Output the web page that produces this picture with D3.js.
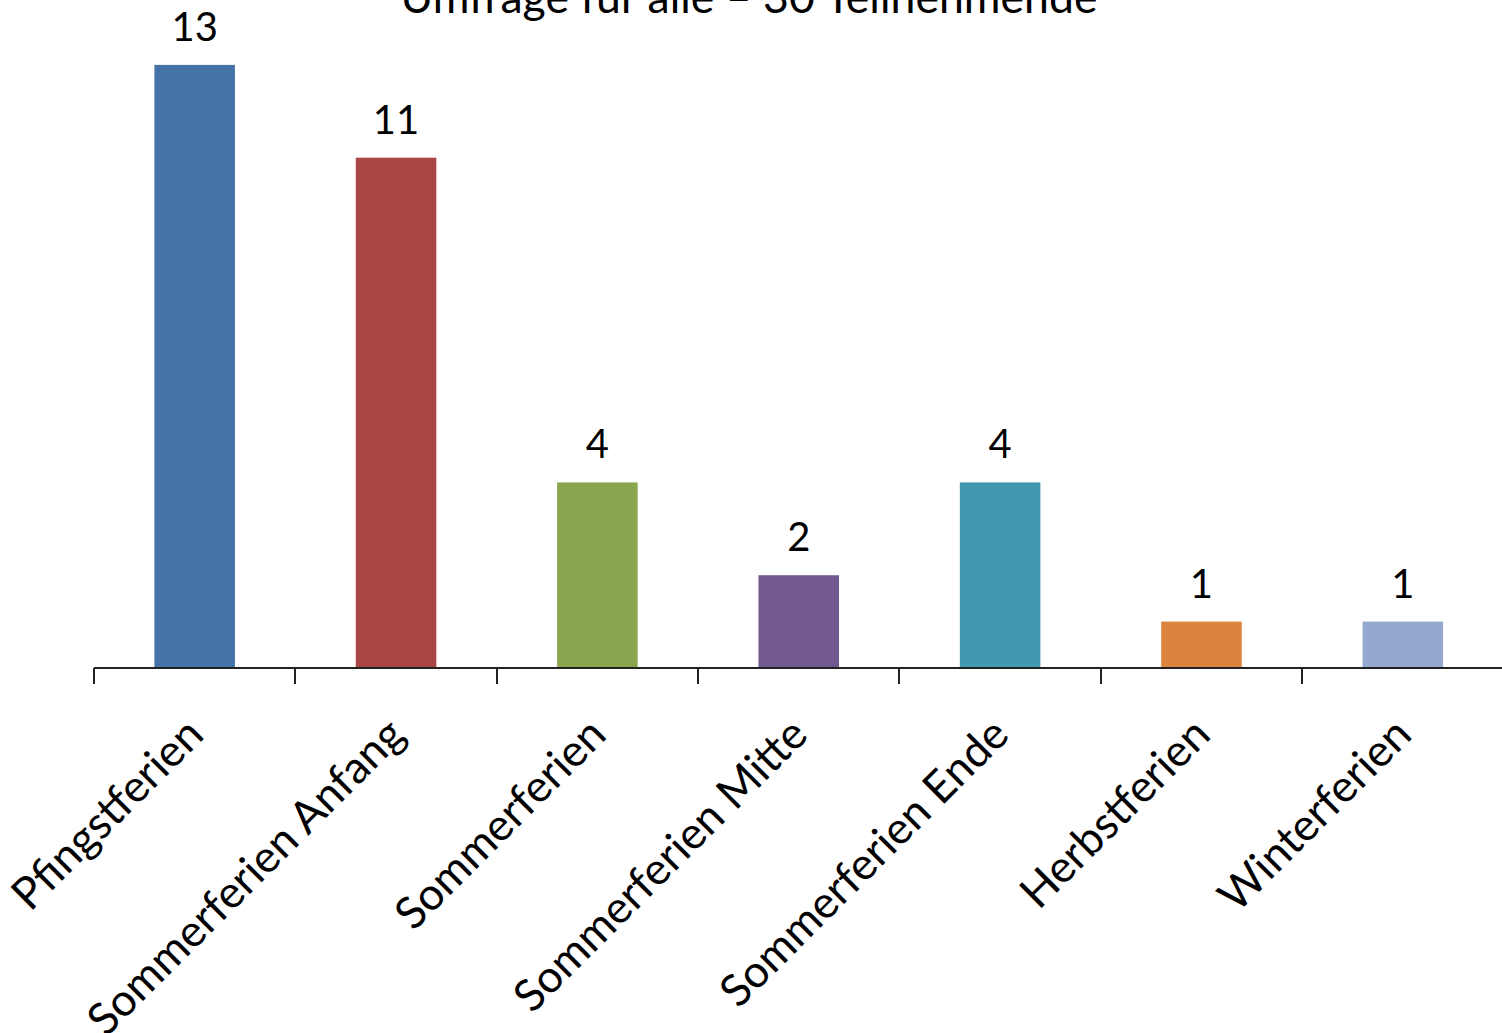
<!DOCTYPE html>
<html><head><meta charset="utf-8">
<script src="https://cdn.jsdelivr.net/npm/d3@7"></script>
<style>
html,body{margin:0;padding:0;background:#fff;overflow:hidden}
svg{display:block}
text{font-family:Lato,"Open Sans",sans-serif;fill:#000}
</style></head>
<body>
<svg id="chart" width="1502" height="1033"></svg>
<script>
const title = "Umfrage für alle – 30 Teilnehmende";
const categories = ["Pfingstferien","Sommerferien Anfang","Sommerferien","Sommerferien Mitte","Sommerferien Ende","Herbstferien","Winterferien"];
const values = [13, 11, 4, 2, 4, 1, 1];
const colors = ["#4572A7","#AA4643","#89A54E","#71588F","#4198AF","#DB843D","#93A9CF"];

const svg = d3.select("#chart");
const x = d3.scaleBand().domain(categories).range([94, 1503.5]).padding(0);
const y = d3.scaleLinear().domain([0, 14]).range([668, 18.5]);
const bw = x.bandwidth();

svg.append("text").attr("x", 749).attr("y", 13).attr("text-anchor","middle")
  .style("font-size","44.6px").text(title);

svg.selectAll("rect.bar").data(values).enter().append("rect")
  .attr("class","bar")
  .attr("x",(d,i)=>x(categories[i]) + bw*0.3)
  .attr("width", bw*0.4)
  .attr("y", d=>y(d))
  .attr("height", d=>y(0)-y(d))
  .attr("fill",(d,i)=>colors[i]);

svg.selectAll("text.val").data(values).enter().append("text")
  .attr("class","val")
  .attr("x",(d,i)=>x(categories[i]) + bw/2)
  .attr("y", d=>y(d) - 24)
  .attr("text-anchor","middle")
  .style("font-size","40px")
  .text(d=>d);

// axis line and ticks
const ax = svg.append("g");
ax.append("line").attr("x1",94).attr("x2",1502).attr("y1",y(0)).attr("y2",y(0))
  .attr("stroke","#222").attr("stroke-width",2);
const tickPos = categories.map(c=>x(c)).concat([x.range()[1]]);
ax.selectAll("line.tick").data(tickPos).enter().append("line")
  .attr("x1",d=>Math.round(d)).attr("x2",d=>Math.round(d))
  .attr("y1",y(0)).attr("y2",y(0)+16)
  .attr("stroke","#222").attr("stroke-width",2);

svg.selectAll("text.cat").data(categories).enter().append("text")
  .attr("class","cat")
  .attr("transform",d=>`translate(${x(d)+bw/2},${726}) rotate(-45)`)
  .attr("text-anchor","end")
  .attr("dy","0.35em")
  .style("font-size","44.5px")
  .text(d=>d);
</script>
</body></html>
